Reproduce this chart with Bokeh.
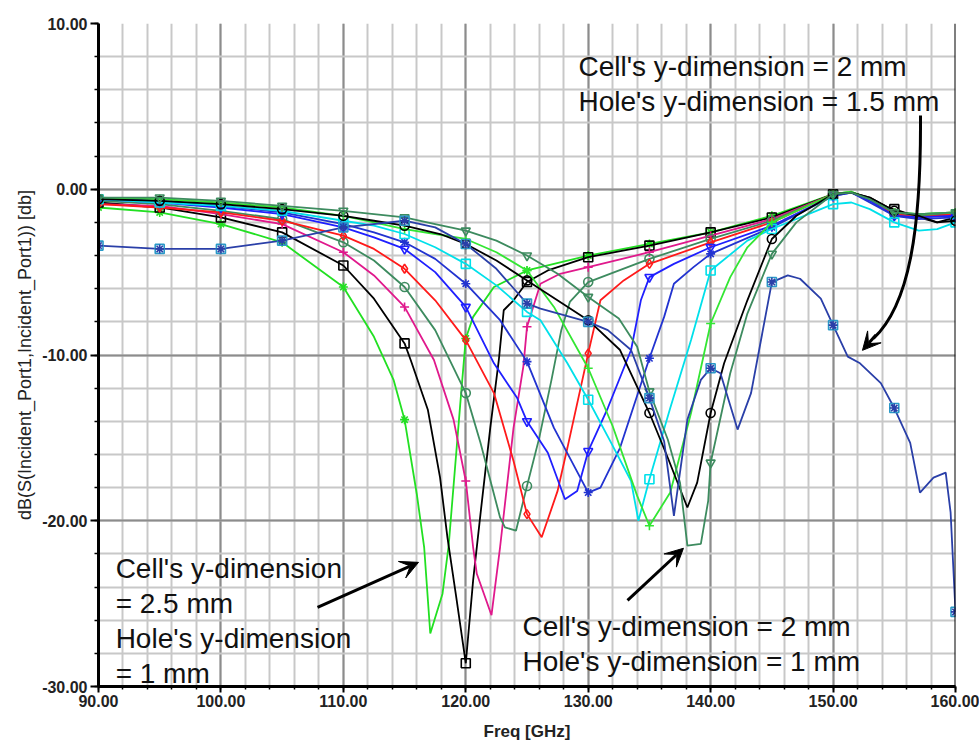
import numpy as np
from bokeh.plotting import figure
from bokeh.models import Range1d, FixedTicker, PrintfTickFormatter, Span, Arrow, VeeHead, Label
from bokeh.embed import file_html
from bokeh.resources import INLINE

# ---------------- data ----------------
a_freq = [90, 95, 100, 105, 110, 112.5, 114.1, 115, 116, 116.6, 117.1, 118.1, 118.6, 119.1, 119.6, 120, 120.6, 122.3, 125, 130, 135, 140, 145, 150, 151.5, 153, 155, 157, 160]
a_db = [-1.1, -1.4, -2.1, -3.2, -5.9, -8.9, -11.5, -13.9, -18.4, -21.6, -26.8, -24.4, -21.5, -17.0, -12.5, -9.0, -7.7, -5.9, -4.9, -4.0, -3.3, -2.6, -1.6, -0.3, -0.15, -0.6, -1.4, -1.5, -1.4]

b_freq = [90, 95, 100, 105, 110, 112.5, 115, 115.5, 116.9, 117.9, 118.5, 119.2, 120, 120.6, 121.2, 122, 122.7, 123.1, 123.9, 125, 126.7, 130, 135, 140, 145, 150, 151.5, 153, 154.5, 155, 157, 158.5, 160]
b_db = [-0.8, -1.1, -1.7, -2.6, -4.6, -6.6, -9.3, -10.3, -13.3, -17.4, -21.0, -24.5, -28.6, -23.6, -19.6, -14.4, -10.3, -7.3, -6.7, -5.6, -4.9, -4.1, -3.4, -2.6, -1.7, -0.3, -0.2, -0.5, -1.1, -1.2, -1.7, -2.0, -1.7]

c_freq = [90, 95, 100, 105, 110, 112.5, 115, 117.4, 119, 120, 120.6, 120.9, 122.1, 122.8, 123.9, 124.7, 125, 126.1, 127.7, 130, 135, 140, 145, 150, 151.5, 153, 155, 157, 160]
c_db = [-0.9, -1.0, -1.5, -2.1, -3.8, -5.2, -7.1, -10.3, -13.9, -17.6, -21.6, -23.2, -25.7, -21.6, -14.4, -10.7, -8.3, -5.7, -5.1, -4.7, -3.8, -2.8, -1.8, -0.3, -0.2, -0.6, -1.4, -1.6, -1.5]

d_freq = [90, 95, 100, 105, 110, 112.5, 115, 117.5, 120, 121.2, 122.8, 123.2, 124.1, 125, 126, 127, 127.8, 128.5, 130, 135, 140, 145, 150, 151.5, 153, 155, 157, 160]
d_db = [-0.7, -0.9, -1.3, -1.8, -3.2, -4.3, -5.9, -8.5, -12.3, -15.3, -19.8, -20.4, -20.6, -17.9, -15.0, -11.5, -8.5, -6.8, -5.6, -4.2, -3.0, -1.9, -0.3, -0.2, -0.6, -1.5, -1.6, -1.5]

e_freq = [90, 95, 100, 105, 110, 112.5, 115, 117.5, 120, 122.3, 123.9, 125, 126.2, 127.5, 128.3, 130, 131, 132.9, 135, 140, 145, 150, 151.5, 153, 155, 157, 160]
e_db = [-0.9, -1.1, -1.4, -1.9, -2.8, -3.6, -4.8, -6.7, -9.1, -12.3, -16.4, -19.6, -21.0, -18.2, -15.6, -9.9, -6.7, -5.5, -4.5, -3.2, -2.0, -0.3, -0.2, -0.6, -1.5, -1.7, -1.5]

f_freq = [90, 95, 100, 105, 110, 112.5, 115, 117.5, 120, 122.3, 124.2, 125, 126.7, 128.1, 129.1, 130, 131.6, 133.5, 134.3, 135, 137, 140, 145, 150, 151.5, 153, 155, 157, 160]
f_db = [-0.6, -0.8, -1.1, -1.5, -2.3, -2.9, -3.6, -5.0, -7.1, -10.5, -12.6, -14.0, -15.9, -18.7, -18.2, -15.8, -13.2, -9.7, -6.7, -5.3, -4.5, -3.5, -2.2, -0.4, -0.2, -0.7, -1.6, -1.7, -1.6]

g_freq = [90, 95, 100, 105, 110, 112.5, 115, 117.5, 120, 122.8, 125, 127.2, 130, 131, 132.6, 135, 136.2, 137, 138.6, 140, 145, 150, 151.5, 153, 155, 157, 160]
g_db = [-0.5, -0.7, -1.0, -1.4, -2.1, -2.6, -3.2, -4.2, -5.7, -7.9, -10.4, -14.4, -18.3, -18.0, -15.6, -10.2, -7.7, -5.7, -4.7, -3.9, -2.3, -0.4, -0.2, -0.8, -1.6, -1.8, -1.7]

h_freq = [90, 95, 100, 105, 110, 112.5, 115, 117.5, 120, 122.5, 125, 126.1, 128.3, 130, 131.8, 133.5, 134.1, 135, 136.7, 138.4, 140, 143, 145, 150, 151.5, 153, 155, 157, 158.5, 160]
h_db = [-0.6, -0.8, -1.0, -1.3, -1.9, -2.2, -2.7, -3.5, -4.5, -5.8, -7.4, -7.9, -10.5, -12.7, -15.2, -17.6, -20.0, -17.5, -13.2, -9.1, -4.9, -3.1, -2.4, -0.9, -0.8, -1.2, -2.0, -2.5, -2.4, -2.0]

i_freq = [90, 95, 100, 105, 110, 112.5, 115, 117.5, 120, 122.5, 125, 127.2, 130, 132, 134, 135, 136.7, 138.4, 140, 141.6, 143, 145, 150, 151.5, 153, 155, 157, 160]
i_db = [-0.5, -0.6, -0.8, -1.1, -1.6, -2.0, -2.4, -2.7, -3.0, -3.8, -4.9, -7.1, -10.8, -14.3, -18.5, -20.3, -18.3, -13.5, -8.1, -5.3, -3.5, -2.0, -0.3, -0.15, -0.6, -1.4, -1.5, -1.4]

k_freq = [90, 95, 100, 105, 110, 112.5, 115, 117.9, 120, 122.5, 125, 130, 132.6, 135, 136.5, 138.1, 138.9, 140, 141.1, 143, 145, 147, 150, 151.5, 153, 155, 157, 158.5, 160]
k_db = [-0.6, -0.7, -0.9, -1.2, -1.6, -1.9, -2.2, -2.7, -3.3, -4.3, -5.5, -7.9, -9.7, -13.5, -16.2, -19.2, -17.7, -13.5, -10.5, -6.7, -3.0, -1.6, -0.3, -0.2, -0.5, -1.3, -1.6, -2.0, -1.9]

l_freq = [90, 95, 100, 105, 110, 112.5, 115, 117.5, 120, 122.5, 125, 127.5, 130, 132.5, 134, 135, 136.5, 137.5, 138.1, 139.2, 139.8, 140, 141.6, 143, 145, 147, 150, 151.5, 153, 155, 157, 160]
l_db = [-0.5, -0.5, -0.7, -1.0, -1.3, -1.5, -1.7, -2.1, -2.5, -3.1, -4.0, -5.1, -6.5, -7.8, -9.5, -12.2, -15.1, -17.7, -21.5, -21.4, -18.8, -16.5, -11.1, -7.5, -3.9, -2.0, -0.3, -0.2, -0.6, -1.4, -1.5, -1.4]

m_freq = [90, 95, 100, 105, 110, 115, 117.5, 120, 122.5, 125, 126.1, 130, 131.6, 133.5, 135, 136.2, 137, 138.1, 139.2, 140, 140.8, 142.2, 143.3, 145, 146.3, 147.3, 149, 150, 151.2, 152.2, 153.9, 155, 156.3, 157.1, 158.2, 159.2, 159.6, 160]
m_db = [-3.4, -3.6, -3.6, -3.1, -2.3, -1.9, -2.3, -3.3, -4.8, -6.9, -7.2, -8.0, -8.5, -9.7, -12.6, -15.2, -19.7, -13.9, -11.5, -10.8, -11.1, -14.5, -12.3, -5.6, -5.2, -5.4, -6.6, -8.2, -10.1, -10.5, -11.7, -13.2, -15.3, -18.3, -17.4, -17.1, -19.5, -25.5]

x_ticks = [90, 100, 110, 120, 130, 140, 150, 160]
y_ticks = [-30, -20, -10, 0, 10]

# ---------------- styles ----------------
series = [
    (a_freq, a_db, "#22e022", ["asterisk"]),
    (b_freq, b_db, "#000000", ["square"]),
    (c_freq, c_db, "#e0198c", ["cross"]),
    (d_freq, d_db, "#3d8b5f", ["circle"]),
    (e_freq, e_db, "#ff1a1a", ["diamond"]),
    (f_freq, f_db, "#1f1fff", ["inverted_triangle"]),
    (g_freq, g_db, "#2233d0", ["asterisk"]),
    (h_freq, h_db, "#00e0ea", ["square"]),
    (i_freq, i_db, "#33e633", ["cross"]),
    (k_freq, k_db, "#000000", ["circle"]),
    (l_freq, l_db, "#3d8b5f", ["inverted_triangle"]),
    (m_freq, m_db, "#2a3fa8", ["square", "asterisk"]),
]

FONT = "Liberation Sans"

p = figure(width=979, height=747, x_range=Range1d(90, 160), y_range=Range1d(-30, 10),
           output_backend="svg", toolbar_location=None,
           min_border_left=98, min_border_right=24, min_border_top=23, min_border_bottom=61)
p.outline_line_color = None
p.background_fill_color = "white"
p.border_fill_color = "white"

xt = FixedTicker(ticks=x_ticks, minor_ticks=list(range(90, 161, 2)))
yt = FixedTicker(ticks=y_ticks, minor_ticks=list(range(-30, 11, 2)))
p.xaxis.ticker = xt
p.yaxis.ticker = yt
p.xgrid.ticker = xt
p.ygrid.ticker = yt
for g in (p.xgrid, p.ygrid):
    g.grid_line_color = "#8c8c8c"
    g.grid_line_width = 2
    g.minor_grid_line_color = "#c8c8c8"
    g.minor_grid_line_width = 2

p.xaxis.formatter = PrintfTickFormatter(format="%.2f")
p.yaxis.formatter = PrintfTickFormatter(format="%.2f")
for ax in (p.xaxis, p.yaxis):
    ax.axis_line_color = "black"
    ax.axis_line_width = 3
    ax.major_tick_line_color = "black"
    ax.minor_tick_line_color = "black"
    ax.major_tick_line_width = 2
    ax.minor_tick_line_width = 1.5
    ax.major_tick_in = 0
    ax.minor_tick_in = 0
    ax.major_label_text_font = FONT
    ax.major_label_text_font_style = "bold"
    ax.major_label_text_font_size = "16px"
    ax.major_label_text_color = "#222222"
    ax.axis_label_text_font = FONT
    ax.axis_label_text_color = "#222222"
p.yaxis.major_tick_out = 8
p.yaxis.minor_tick_out = 4
p.yaxis.major_label_standoff = 3
p.xaxis.major_tick_out = 6
p.xaxis.minor_tick_out = 3
p.xaxis.major_label_standoff = 2

p.xaxis.axis_label = "Freq [GHz]"
p.xaxis.axis_label_text_font_style = "bold"
p.xaxis.axis_label_text_font_size = "17px"
p.xaxis.axis_label_standoff = 12
p.yaxis.axis_label = "dB(S(Incident_Port1,Incident_Port1)) [db]"
p.yaxis.axis_label_text_font_style = "normal"
p.yaxis.axis_label_text_font_size = "18px"
p.yaxis.axis_label_standoff = 4

p.add_layout(Span(location=160, dimension="height", line_color="black", line_width=2))

for fx, fy, color, markers in series:
    fx = np.asarray(fx, dtype=float)
    fy = np.asarray(fy, dtype=float)
    p.line(fx, fy, line_color=color, line_width=1.8)
    mask = np.isclose(np.mod(fx, 5), 0) | np.isclose(np.mod(fx, 5), 5)
    for mk in markers:
        mcol = "#2a9ac8" if (mk == "square" and len(markers) > 1) else color
        p.scatter(fx[mask], fy[mask], marker=mk, size=9, fill_color=None,
                  line_color=mcol, line_width=1.6)

# ---------------- annotations ----------------
def add_text(x, y, txt):
    p.add_layout(Label(x=x, y=y, text=txt, text_font=FONT, text_font_size="28px",
                       text_color="#111111", text_baseline="alphabetic", text_align="left"))

add_text(129.2, 7.41, "Cell's y-dimension = 2 mm")
add_text(129.2, 5.30, "Hole's y-dimension = 1.5 mm")
add_text(91.4, -22.87, "Cell's y-dimension")
add_text(91.4, -24.98, "= 2.5 mm")
add_text(91.4, -27.09, "Hole's y-dimension")
add_text(91.4, -29.20, "= 1 mm")
add_text(124.63, -26.37, "Cell's y-dimension = 2 mm")
add_text(124.63, -28.48, "Hole's y-dimension = 1 mm")

def head():
    return VeeHead(size=18, fill_color="black", line_color="black", line_width=1)

p.add_layout(Arrow(end=head(), x_start=107.89, y_start=-25.22, x_end=116.14, y_end=-22.51,
                   line_width=3, line_color="black"))
p.add_layout(Arrow(end=head(), x_start=133.21, y_start=-24.80, x_end=137.78, y_end=-21.66,
                   line_width=3, line_color="black"))
p.bezier(x0=157.14, y0=4.45, x1=153.3, y1=-9.0, cx0=157.2, cy0=-2.5, cx1=156.2, cy1=-7.0,
         line_color="black", line_width=3)
p.add_layout(Arrow(end=head(), x_start=153.5, y_start=-8.8, x_end=152.4, y_end=-9.72,
                   line_width=3, line_color="black"))

open("out.html", "w").write(file_html(p, INLINE))
